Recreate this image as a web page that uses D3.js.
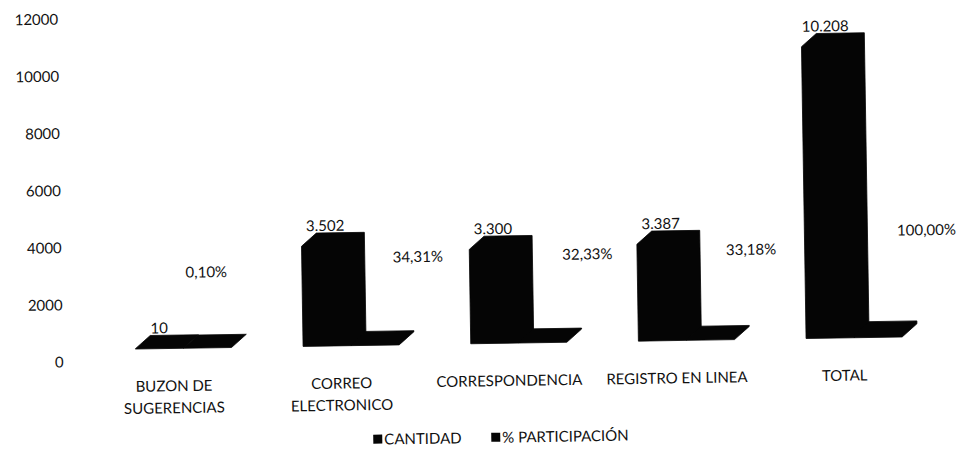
<!DOCTYPE html>
<html>
<head>
<meta charset="utf-8">
<script src="https://cdn.jsdelivr.net/npm/d3@7"></script>
<style>
  html, body { margin: 0; padding: 0; background: #fff; }
  svg text { font-family: Lato, "Open Sans", sans-serif; font-size: 15px; fill: #111; }
</style>
</head>
<body>
<svg id="chart" width="958" height="459"></svg>
<script>
// Quejas y solicitudes por canal
const categories = [["BUZON DE", "SUGERENCIAS"], ["CORREO", "ELECTRONICO"], ["CORRESPONDENCIA"], ["REGISTRO EN LINEA"], ["TOTAL"]];
const seriesNames = ["CANTIDAD", "% PARTICIPACIÓN"];
const cantidad = [10, 3502, 3300, 3387, 10208];
const participacion = [0.10, 34.31, 32.33, 33.18, 100.00];
const cantidadLabels = ["10", "3.502", "3.300", "3.387", "10.208"];
const participacionLabels = ["0,10%", "34,31%", "32,33%", "33,18%", "100,00%"];
const yTicks = [0, 2000, 4000, 6000, 8000, 10000, 12000];

// Label placement for the percentage series (offset from the bar, in px)
const pctLabelDx = [0, 44, 46, 42, 50];
const pctLabelRise = [76, 87, 87, 89, 104];

const svg = d3.select("#chart");
const g = svg.append("g").attr("transform", "rotate(-0.9 480 230)");

const catKeys = categories.map(c => c.join(" "));
const x0 = d3.scaleBand().domain(catKeys).range([62, 972]).paddingInner(0.427).paddingOuter(0.427);
const x1 = d3.scaleBand().domain(seriesNames).range([0, x0.bandwidth()]);
const w = x1.bandwidth();

// Axis scale (back wall) and the front-face scale of the 3D columns
const yAxis = d3.scaleLinear().domain([0, 12000]).range([355.6, 12.6]);
const frontDrop = -12;
const yBar = d3.scaleLinear().domain([0, 12000]).range([yAxis(0) + frontDrop, yAxis(12000) + frontDrop]);
const depth = { dx: 15, dy: -13 };

// Y axis labels
const axis = d3.axisLeft(yAxis).tickValues(yTicks).tickSize(0).tickPadding(3).tickFormat(d => String(d));
const axG = g.append("g").attr("transform", "translate(64.5,0)").call(axis);
axG.select(".domain").remove();
axG.selectAll("text").style("font-family", "Lato, sans-serif").style("font-size", "15px").attr("fill", "#111");

function columnPath(x, w, v) {
  const top = yBar(v), bot = yBar(0);
  const { dx, dy } = depth;
  return `M${x},${bot} L${x},${top} L${x + dx},${top + dy} L${x + w + dx},${top + dy} L${x + w + dx},${bot + dy} L${x + w},${bot} Z`;
}

const rows = catKeys.map((k, i) => ({ key: k, vals: [cantidad[i], participacion[i]] }));

const catG = g.selectAll("g.cat").data(rows).join("g").attr("class", "cat")
  .attr("transform", d => `translate(${x0(d.key)},0)`);

catG.selectAll("path.col").data(d => d.vals.map((v, j) => ({ s: seriesNames[j], v })))
  .join("path").attr("class", "col")
  .attr("d", d => columnPath(x1(d.s), w, d.v))
  .attr("fill", "#050505")
  .attr("stroke", "#050505")
  .attr("stroke-width", 0.8)
  .attr("stroke-linejoin", "round");

// Value labels: CANTIDAD above each column
g.selectAll("text.cant").data(cantidad).join("text").attr("class", "cant")
  .attr("x", (d, i) => x0(catKeys[i]) + x1(seriesNames[0]) + w / 2)
  .attr("y", d => yBar(d) + depth.dy - 2)
  .attr("text-anchor", "middle")
  .text((d, i) => cantidadLabels[i]);

// Value labels: % PARTICIPACIÓN
g.selectAll("text.pct").data(participacion).join("text").attr("class", "pct")
  .attr("x", (d, i) => x0(catKeys[i]) + x1(seriesNames[1]) + w / 2 + pctLabelDx[i])
  .attr("y", (d, i) => yBar(d) - pctLabelRise[i] + 5.4)
  .attr("text-anchor", "middle")
  .text((d, i) => participacionLabels[i]);

// Category labels
const catLab = g.selectAll("text.catlab").data(categories).join("text").attr("class", "catlab")
  .attr("text-anchor", "middle")
  .attr("transform", (d, i) => `translate(${x0(catKeys[i]) + 38},0)`);
catLab.selectAll("tspan").data(d => d).join("tspan")
  .attr("x", 0).attr("y", (d, k) => 386.4 + k * 22)
  .text(d => d);

// Legend
const legend = g.append("g").attr("transform", "translate(0,438)");
const legX = [370, 488];
seriesNames.forEach((name, j) => {
  legend.append("rect").attr("x", legX[j]).attr("y", -5).attr("width", 9).attr("height", 9).attr("fill", "#050505");
  legend.append("text").attr("x", legX[j] + 11).attr("y", 5).style("font-size", "15px").text(name);
});
</script>
</body>
</html>
